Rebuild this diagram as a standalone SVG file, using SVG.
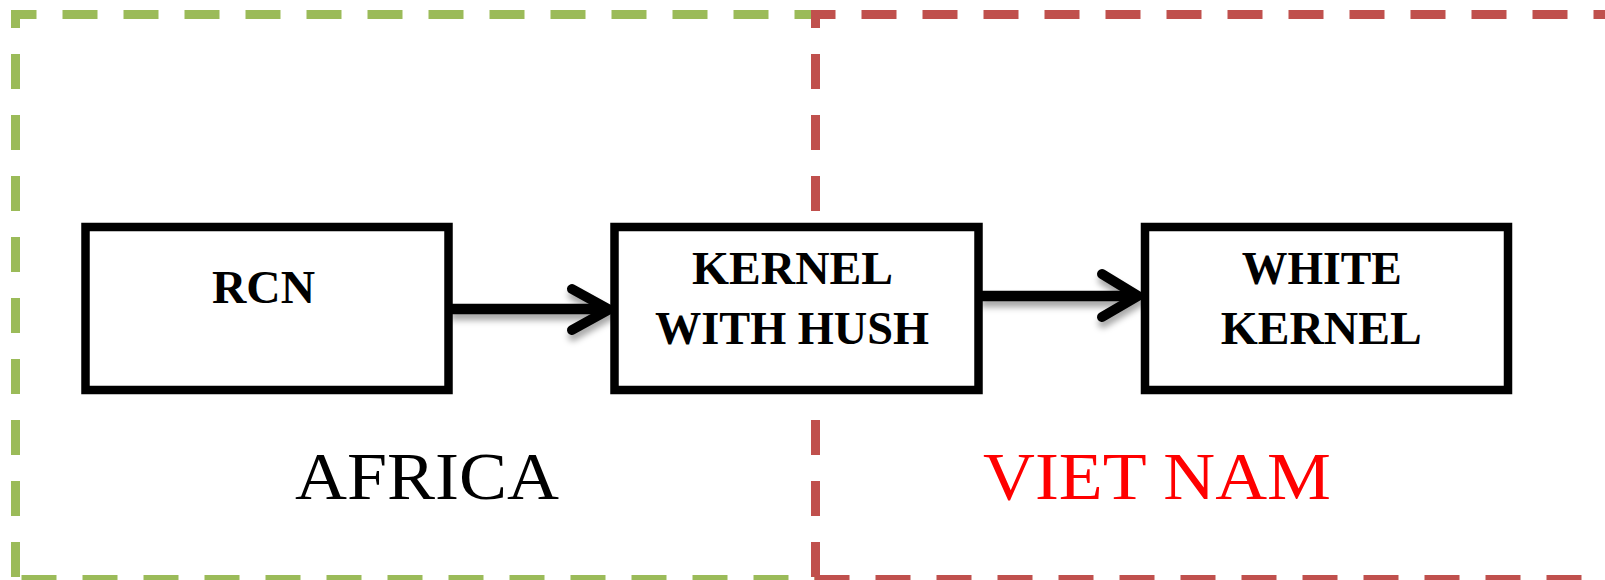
<svg xmlns="http://www.w3.org/2000/svg" width="1605" height="580" viewBox="0 0 1605 580">
  <style>
    .zone-g { stroke: #9BBB59; stroke-width: 9; stroke-dasharray: 35 26; fill: none; }
    .zone-r { stroke: #C0504D; stroke-width: 9; stroke-dasharray: 35 26; fill: none; }
    .box { fill: #FFFFFF; stroke: #000000; stroke-width: 8.5; }
    .lbl { font-family: "Liberation Serif", "Times New Roman", serif; font-weight: bold; font-size: 47px; fill: #000000; text-anchor: middle; }
    .region { font-family: "Liberation Serif", "Times New Roman", serif; font-size: 68px; text-anchor: middle; }
    .conn { stroke: #000000; stroke-width: 10.5; fill: none; }
    .head { stroke: #000000; stroke-width: 10; fill: none; stroke-linecap: round; stroke-linejoin: miter; }
  </style>
  <defs>
    <filter id="shadow" x="-10%" y="-50%" width="120%" height="250%">
      <feDropShadow dx="1" dy="6" stdDeviation="3" flood-color="#000000" flood-opacity="0.35"/>
    </filter>
  </defs>
  <rect width="1605" height="580" fill="#FFFFFF"/>

  <g id="zone-africa">
    <line class="zone-g" x1="11" y1="14.5" x2="815.5" y2="14.5" stroke-dashoffset="9.5"/>
    <line class="zone-g" x1="15.5" y1="10" x2="15.5" y2="584" stroke-dashoffset="17"/>
    <line class="zone-g" x1="11" y1="579.5" x2="815.5" y2="579.5" stroke-dashoffset="50.5"/>
    <text class="region" x="427" y="498.5" textLength="264" lengthAdjust="spacingAndGlyphs" fill="#000000">AFRICA</text>
  </g>
  <g id="zone-vietnam">
    <line class="zone-r" x1="811" y1="14.5" x2="1610" y2="14.5" stroke-dashoffset="10.5"/>
    <line class="zone-r" x1="815.5" y1="10" x2="815.5" y2="584" stroke-dashoffset="17"/>
    <line class="zone-r" x1="811" y1="579.5" x2="1610" y2="579.5" stroke-dashoffset="57.5"/>
    <text class="region" x="1157" y="499" textLength="348" lengthAdjust="spacingAndGlyphs" fill="#FF0000">VIET NAM</text>
  </g>

  <g id="connectors" filter="url(#shadow)">
    <g id="edge-rcn-kernel">
      <line class="conn" x1="450" y1="309" x2="606" y2="309"/>
      <polyline class="head" points="572,289 609,309.5 572,330"/>
    </g>
    <g id="edge-kernel-white">
      <line class="conn" x1="980" y1="296" x2="1135" y2="296"/>
      <polyline class="head" points="1102,274 1138,296 1102,317"/>
    </g>
  </g>

  <g id="node-rcn">
    <rect class="box" x="85.5" y="227" width="363" height="163"/>
    <text class="lbl" x="263.5" y="303.3" font-size="53" textLength="103" lengthAdjust="spacingAndGlyphs">RCN</text>
  </g>
  <g id="node-kernel-hush">
    <rect class="box" x="614.5" y="227" width="364" height="163"/>
    <text class="lbl" x="792.5" y="283.5" textLength="201" lengthAdjust="spacingAndGlyphs">KERNEL</text>
    <text class="lbl" x="792" y="344" textLength="274" lengthAdjust="spacingAndGlyphs">WITH HUSH</text>
  </g>
  <g id="node-white-kernel">
    <rect class="box" x="1145" y="227" width="363" height="163"/>
    <text class="lbl" x="1321.7" y="283.5" textLength="160" lengthAdjust="spacingAndGlyphs">WHITE</text>
    <text class="lbl" x="1321.2" y="344" textLength="201" lengthAdjust="spacingAndGlyphs">KERNEL</text>
  </g>
</svg>
